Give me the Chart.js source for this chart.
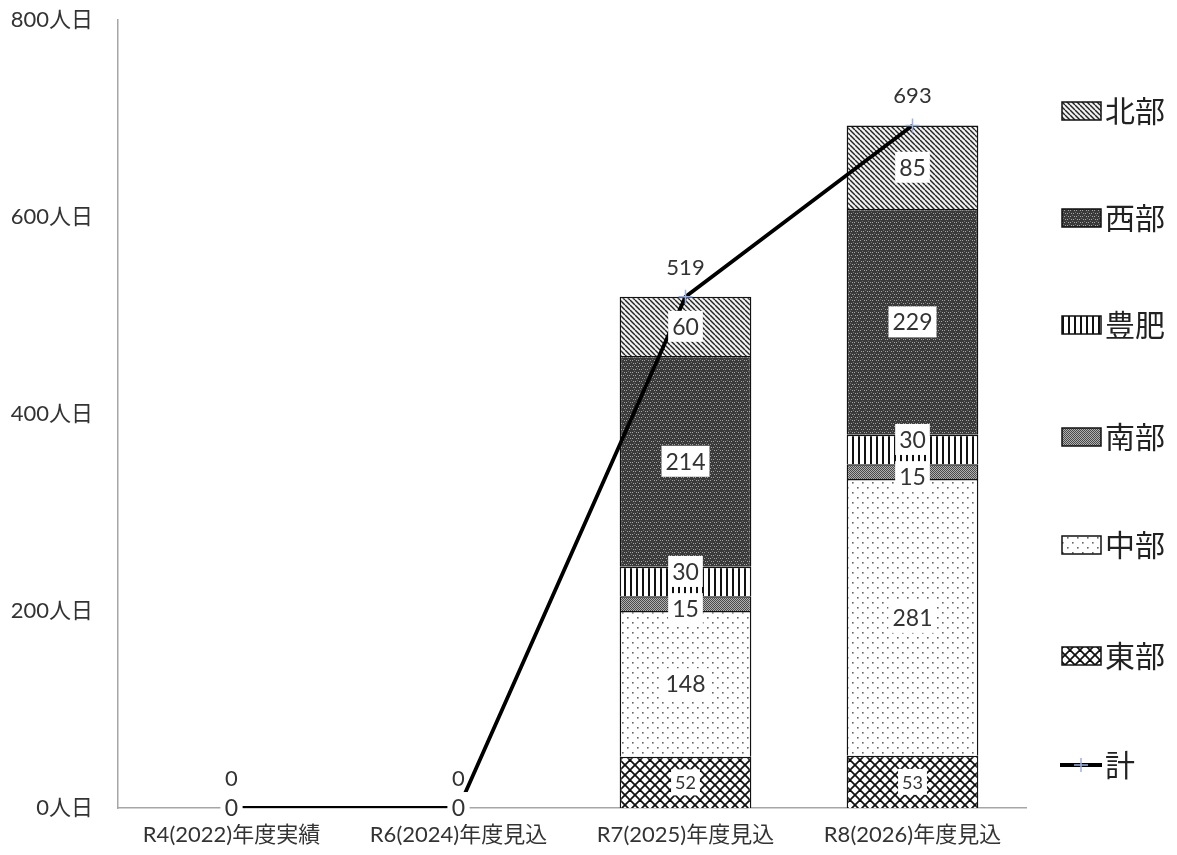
<!DOCTYPE html>
<html>
<head>
<meta charset="utf-8">
<script src="https://cdn.jsdelivr.net/npm/chart.js@4.4.1/dist/chart.umd.min.js"></script>
<style>
body { margin: 0; background: #fff; }
#wrap { width: 1177px; height: 855px; }
</style>
</head>
<body>
<div id="wrap"><canvas id="myChart" width="1177" height="855"></canvas></div>
<script>
var categories = ['R4(2022)年度実績', 'R6(2024)年度見込', 'R7(2025)年度見込', 'R8(2026)年度見込'];
var higashi = [0, 0, 52, 53];   // 東部
var chubu = [0, 0, 148, 281];   // 中部
var nanbu = [0, 0, 15, 15];     // 南部
var hohi = [0, 0, 30, 30];      // 豊肥
var seibu = [0, 0, 214, 229];   // 西部
var hokubu = [0, 0, 60, 85];    // 北部
var total = [0, 0, 519, 693];   // 計
var yTicks = [0, 200, 400, 600, 800];

var FONT = "Lato, 'Noto Sans CJK JP', sans-serif";

function makePattern(size, draw) {
    var c = document.createElement('canvas');
    c.width = size; c.height = size;
    var g = c.getContext('2d');
    draw(g, size);
    return document.getElementById('myChart').getContext('2d').createPattern(c, 'repeat');
}

var patHokubu = makePattern(5, function (g, s) {
    g.fillStyle = '#f2f2f2'; g.fillRect(0, 0, s, s);
    g.strokeStyle = '#222'; g.lineWidth = 1.4;
    [-s, 0, s].forEach(function (k) { g.beginPath(); g.moveTo(k, 0); g.lineTo(k + s, s); g.stroke(); });
});
var patSeibu = makePattern(6, function (g, s) {
    g.fillStyle = '#3a3a3a'; g.fillRect(0, 0, s, s);
    g.fillStyle = '#a5a5a5';
    g.fillRect(0, 0, 1, 1); g.fillRect(3, 3, 1, 1); g.fillRect(2, 0, 1, 1); g.fillRect(5, 3, 1, 1);
    g.fillStyle = '#707070';
    g.fillRect(1, 2, 1, 1); g.fillRect(4, 5, 1, 1);
});
var patHohi = makePattern(6, function (g, s) {
    g.fillStyle = '#fff'; g.fillRect(0, 0, s, s);
    g.fillStyle = '#111'; g.fillRect(0, 0, 2, s);
});
var patNanbu = makePattern(2, function (g, s) {
    g.fillStyle = '#b0b0b0'; g.fillRect(0, 0, s, s);
    g.fillStyle = '#4a4a4a'; g.fillRect(0, 0, 1, 1); g.fillRect(1, 1, 1, 1);
});
var patChubu = makePattern(10, function (g, s) {
    g.fillStyle = '#fff'; g.fillRect(0, 0, s, s);
    g.fillStyle = '#666';
    g.fillRect(2, 2, 1.6, 1.6); g.fillRect(7, 7, 1.6, 1.6);
});
var patHigashi = makePattern(10, function (g, s) {
    g.fillStyle = '#fff'; g.fillRect(0, 0, s, s);
    g.strokeStyle = '#111'; g.lineWidth = 1.8;
    [-s, 0, s].forEach(function (k) {
        g.beginPath(); g.moveTo(k, 0); g.lineTo(k + s, s); g.stroke();
        g.beginPath(); g.moveTo(k + s, 0); g.lineTo(k, s); g.stroke();
    });
});

function barSet(label, data, pattern, size, shift) {
    return {
        type: 'bar', label: label, data: data, backgroundColor: pattern,
        borderColor: '#111', borderWidth: 1.5, stack: 's', order: 2,
        labelSize: size, labelShift: shift || 0
    };
}

var datasets = [
    barSet('東部', higashi, patHigashi, 18),
    barSet('中部', chubu, patChubu, 23),
    barSet('南部', nanbu, patNanbu, 23, 5),
    barSet('豊肥', hohi, patHohi, 23, -10),
    barSet('西部', seibu, patSeibu, 23),
    barSet('北部', hokubu, patHokubu, 23),
    {
        type: 'line', label: '計', data: total, borderColor: '#000', borderWidth: 3.8,
        pointStyle: 'cross', pointRadius: 7, pointBorderColor: '#9db0de', pointBorderWidth: 1.5,
        pointBackgroundColor: '#9db0de', tension: 0, order: 1
    }
];

var labelPlugin = {
    id: 'labels',
    afterDatasetsDraw: function (chart) {
        var ctx = chart.ctx;
        ctx.save();
        ctx.textAlign = 'center';
        ctx.textBaseline = 'middle';
        chart.data.datasets.forEach(function (ds, di) {
            var meta = chart.getDatasetMeta(di);
            meta.data.forEach(function (el, i) {
                var txt = String(ds.data[i]);
                if (ds.type === 'bar') {
                    var cy = (el.y + el.base) / 2;
                    if (ds.data[i] !== 0) cy += ds.labelShift;
                    ctx.font = ds.labelSize + 'px ' + FONT;
                    var w = ctx.measureText(txt).width + 8;
                    var h = ds.labelSize + 8;
                    ctx.fillStyle = '#fff';
                    ctx.fillRect(el.x - w / 2, cy - h / 2, w, h);
                    ctx.fillStyle = '#333';
                    ctx.fillText(txt, el.x, cy + 1);
                } else {
                    ctx.font = '22px ' + FONT;
                    ctx.fillStyle = '#333';
                    ctx.fillText(txt, el.x, el.y - 29);
                }
            });
        });
        ctx.restore();
    }
};

var legendPlugin = {
    id: 'sideLegend',
    afterDraw: function (chart) {
        var ctx = chart.ctx;
        var order = [5, 4, 3, 2, 1, 0, 6];
        var ys = [111, 218, 325, 437, 545, 656, 765];
        ctx.save();
        order.forEach(function (di, k) {
            var ds = chart.data.datasets[di];
            var y = ys[k];
            if (ds.type === 'bar') {
                ctx.fillStyle = ds.backgroundColor;
                ctx.fillRect(1062, y - 9, 39, 18);
                ctx.strokeStyle = '#111'; ctx.lineWidth = 1.5;
                ctx.strokeRect(1062, y - 9, 39, 18);
            } else {
                ctx.strokeStyle = '#000'; ctx.lineWidth = 4;
                ctx.beginPath(); ctx.moveTo(1060, y); ctx.lineTo(1102, y); ctx.stroke();
                ctx.strokeStyle = '#9db0de'; ctx.lineWidth = 1.5;
                ctx.beginPath(); ctx.moveTo(1081, y - 7); ctx.lineTo(1081, y + 7);
                ctx.moveTo(1074, y); ctx.lineTo(1088, y); ctx.stroke();
            }
            ctx.fillStyle = '#222';
            ctx.font = '30px ' + FONT;
            ctx.textAlign = 'left';
            ctx.textBaseline = 'middle';
            ctx.fillText(ds.label, 1105, y + 1);
        });
        ctx.restore();
    }
};

var ctx = document.getElementById('myChart').getContext('2d');
var chart = new Chart(ctx, {
    type: 'bar',
    data: { labels: categories, datasets: datasets },
    options: {
        responsive: false,
        animation: false,
        layout: { padding: { top: 20, right: 151, bottom: 0, left: 0 } },
        datasets: { bar: { categoryPercentage: 0.58, barPercentage: 1 } },
        plugins: { legend: { display: false }, tooltip: { enabled: false } },
        scales: {
            x: {
                stacked: true,
                grid: { display: false, drawTicks: false },
                border: { color: '#a6a6a6', width: 1.5 },
                ticks: { color: '#333', padding: 14, font: { size: 22, family: FONT } },
                afterFit: function (s) { s.height = 47; }
            },
            y: {
                stacked: true,
                min: 0, max: 800,
                grid: { display: false, drawTicks: false },
                border: { color: '#a6a6a6', width: 1.5 },
                afterBuildTicks: function (s) { s.ticks = yTicks.map(function (v) { return { value: v }; }); },
                ticks: {
                    color: '#333', padding: 25, font: { size: 22, family: FONT },
                    callback: function (v) { return v + '人日'; }
                },
                afterFit: function (s) { s.width = 118; s.paddingTop = 0; s.paddingBottom = 0; }
            }
        }
    },
    plugins: [labelPlugin, legendPlugin]
});
</script>
</body>
</html>
